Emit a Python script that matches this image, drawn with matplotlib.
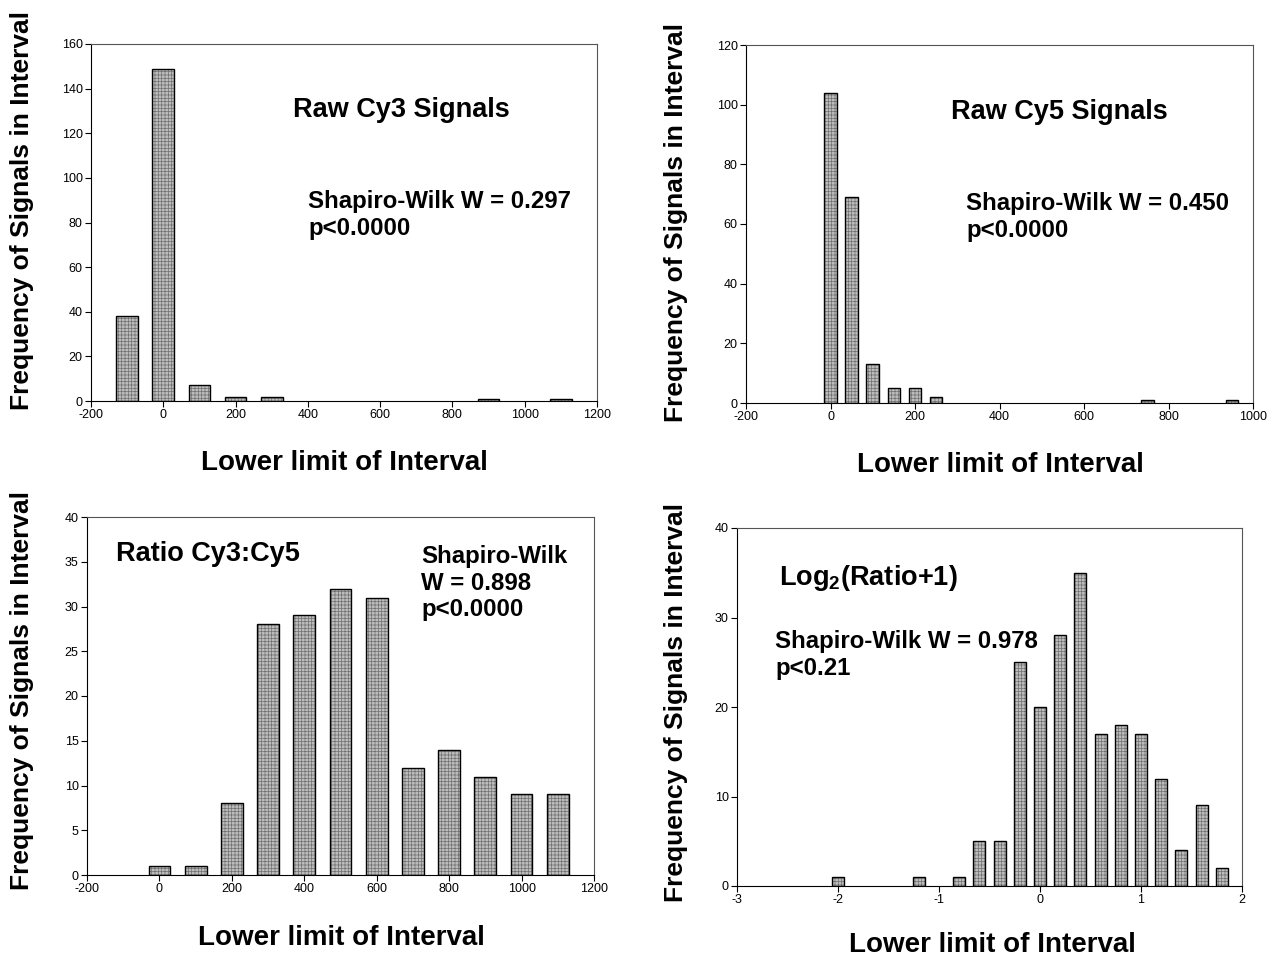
import matplotlib
matplotlib.use("Agg")
import matplotlib.pyplot as plt

plt.rcParams['font.family'] = ['Liberation Sans', 'DejaVu Sans']
plt.rcParams['mathtext.fontset'] = 'custom'
plt.rcParams['mathtext.rm'] = 'Liberation Sans'
plt.rcParams['mathtext.bf'] = 'Liberation Sans:bold'
plt.rcParams['hatch.linewidth'] = 0.5
plt.rcParams['axes.unicode_minus'] = False

# ---------------- data ----------------
cy3_x = [-100, 0, 100, 200, 300, 900, 1100]
cy3_y = [38, 149, 7, 2, 2, 1, 1]

cy5_x = [0, 50, 100, 150, 200, 250, 750, 950]
cy5_y = [104, 69, 13, 5, 5, 2, 1, 1]

ratio_x = [0, 100, 200, 300, 400, 500, 600, 700, 800, 900, 1000, 1100]
ratio_y = [1, 1, 8, 28, 29, 32, 31, 12, 14, 11, 9, 9]

log_x = [-2.0, -1.2, -0.8, -0.6, -0.4, -0.2, 0.0, 0.2, 0.4, 0.6, 0.8, 1.0, 1.2, 1.4, 1.6, 1.8]
log_y = [1, 1, 1, 5, 5, 25, 20, 28, 35, 17, 18, 17, 12, 4, 9, 2]

titles = ["Raw Cy3 Signals", "Raw Cy5 Signals", "Ratio Cy3:Cy5", r"Log$_{\mathbf{2}}$(Ratio+1)"]
stats = [["Shapiro-Wilk W = 0.297", "p<0.0000"],
         ["Shapiro-Wilk W = 0.450", "p<0.0000"],
         ["Shapiro-Wilk", "W = 0.898", "p<0.0000"],
         ["Shapiro-Wilk W = 0.978", "p<0.21"]]
xlabel = "Lower limit of Interval"
ylabel = "Frequency of Signals in Interval"

W, H = 1267, 958
fig = plt.figure(figsize=(W / 100, H / 100), dpi=100)
fig.patch.set_facecolor('white')

def fx(x):
    return x / W

def fy(y):
    return 1 - y / H

def make_axes(l, r, t, b):
    return fig.add_axes([fx(l), fy(b), fx(r) - fx(l), fy(t) - fy(b)])

panels = [
    dict(box=(91, 597, 44, 401), x=cy3_x, y=cy3_y, w=60, xlim=(-200, 1200), xt=range(-200, 1201, 200),
         ylim=(0, 160), yt=range(0, 161, 20),
         title_pos=(293, 117), stat_pos=(308, 208), stat_dy=27,
         xl_pos=(344, 470), yl_pos=(22, 211)),
    dict(box=(746, 1253, 45, 403), x=cy5_x, y=cy5_y, w=30, xlim=(-200, 1000), xt=range(-200, 1001, 200),
         ylim=(0, 120), yt=range(0, 121, 20),
         title_pos=(951, 119), stat_pos=(966, 210), stat_dy=27,
         xl_pos=(1000, 472), yl_pos=(676, 222)),
    dict(box=(87, 594, 517, 875), x=ratio_x, y=ratio_y, w=60, xlim=(-200, 1200), xt=range(-200, 1201, 200),
         ylim=(0, 40), yt=range(0, 41, 5),
         title_pos=(116, 561), stat_pos=(421, 563), stat_dy=26.7,
         xl_pos=(341, 945), yl_pos=(22, 690)),
    dict(box=(737, 1242, 528, 886), x=log_x, y=log_y, w=0.12, xlim=(-3, 2), xt=range(-3, 3),
         ylim=(0, 40), yt=range(0, 41, 10),
         title_pos=(779, 585), stat_pos=(775, 648), stat_dy=27,
         xl_pos=(992, 952), yl_pos=(676, 703)),
]

for i, p in enumerate(panels):
    ax = make_axes(*p['box'])
    ax.bar(p['x'], p['y'], width=p['w'], color='#bdbdbd', edgecolor='#707070',
           hatch='+++++', linewidth=0, zorder=2)
    ax.bar(p['x'], p['y'], width=p['w'], fill=False, edgecolor='black', linewidth=1.0, zorder=3)
    ax.set_xlim(*p['xlim'])
    ax.set_ylim(*p['ylim'])
    ax.set_xticks(list(p['xt']))
    ax.set_yticks(list(p['yt']))
    ax.tick_params(direction='out', length=4, width=0.8, labelsize=9, pad=2, top=False, right=False)
    for s in ax.spines.values():
        s.set_linewidth(0.8)
    ax.spines['top'].set_color('#555555')
    ax.spines['right'].set_color('#555555')

    tx, ty = p['title_pos']
    fig.text(fx(tx), fy(ty), titles[i], fontsize=19.5, fontweight='bold', ha='left', va='baseline')
    sx, sy = p['stat_pos']
    for k, line in enumerate(stats[i]):
        fig.text(fx(sx), fy(sy + k * p['stat_dy']), line, fontsize=17.3, fontweight='bold',
                 ha='left', va='baseline')
    xx, xy = p['xl_pos']
    fig.text(fx(xx), fy(xy), xlabel, fontsize=20, fontweight='bold', ha='center', va='baseline')
    yx, yy = p['yl_pos']
    fig.text(fx(yx), fy(yy), ylabel, fontsize=19, fontweight='bold', ha='center', va='center',
             rotation=90)

fig.savefig("out.png", dpi=100, facecolor='white')
